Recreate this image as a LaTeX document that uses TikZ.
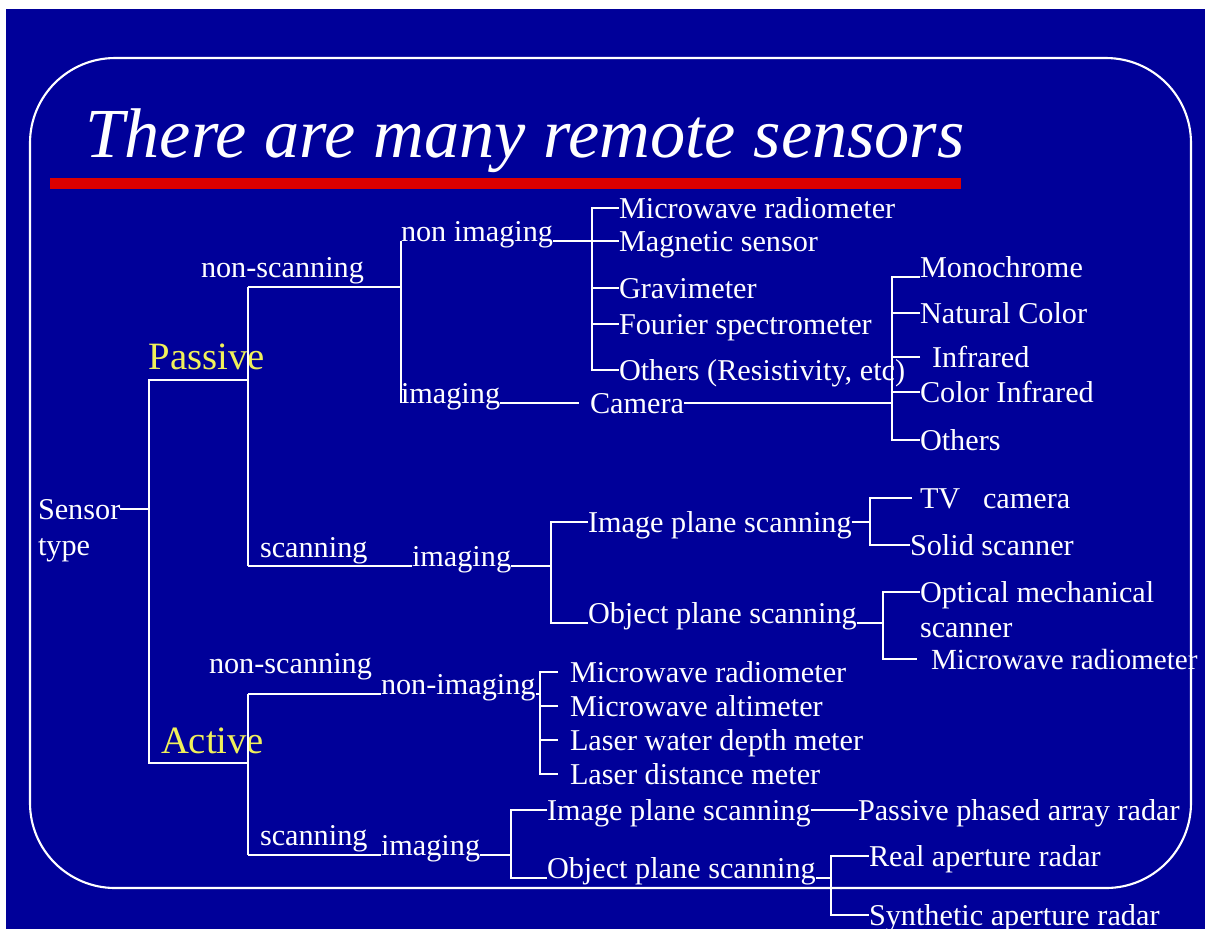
\documentclass[tikz,border=0pt]{standalone}
\usepackage{fontspec}
\setmainfont{Liberation Serif}
\usetikzlibrary{positioning, calc}

\definecolor{slideblue}{RGB}{0,0,153}
\definecolor{slidered}{RGB}{220,0,0}
\definecolor{slideyellow}{RGB}{240,240,90}

\begin{document}
\begin{tikzpicture}[
    x=0.01cm, y=-0.01cm,
    lbl/.style={text=white, font=\fontsize{8.6}{10}\selectfont, inner sep=0pt, outer sep=0pt, text height=5.9pt, text depth=0.2pt, anchor=west},
    online/.style={lbl, anchor=base west},
    kind/.style={online, text=slideyellow, font=\fontsize{11}{13}\selectfont},
    heading/.style={text=white, font=\fontsize{20}{24}\selectfont\itshape, inner sep=0pt, anchor=base west},
    wire/.style={draw=white, line width=0.55pt},
]
\useasboundingbox (0,0) rectangle (1205,929);

% slide background
\fill[white] (0,0) rectangle (1205,929);
\fill[slideblue] (6,9) rectangle (1205,929);
\draw[white, line width=0.6pt, rounded corners=0.85cm] (30,58) rectangle (1191,888);
\fill[slidered] (50,178) rectangle (961,189);
\node[heading] (title) at (85,157) {There are many remote sensors};

% root
\node[lbl] (sensor) at (38,509) {Sensor};
\node[lbl] (stype) at (38,545) {type};
\coordinate (rootT) at (149,380);
\coordinate (rootB) at (149,763);
\coordinate (pasT) at (248,287);
\coordinate (pasB) at (248,566);
\coordinate (actT) at (248,694);
\coordinate (actB) at (248,855);

\node[kind] (passive) at (149,369) {Passive};
\node[kind] (active) at (161,753) {Active};

\draw[wire] (sensor.east) -- (sensor.east -| rootT);
\draw[wire] (rootT -| pasT) -- (rootT) -- (rootB) -- (rootB -| actT);
\draw[wire] (pasT) -- (pasB);
\draw[wire] (actT) -- (actB);

% passive, non-scanning
\node[online] (pns) at (201,277) {non-scanning};
\node[online] (pnimg) at (401,241) {non imaging};
\node[online] (pimg) at (401,403) {imaging};
\draw[wire] (pasT) -- (pasT -| pnimg.base west);
\draw[wire] (pnimg.base west) -- (pimg.base west);

\coordinate (nimgJ) at (592,208);
\node[lbl] (pmwr) at (619,208) {Microwave radiometer};
\node[lbl] (pmag) at (619,241) {Magnetic sensor};
\node[lbl] (pgrav) at (619,288) {Gravimeter};
\node[lbl] (pfour) at (619,324) {Fourier spectrometer};
\node[lbl] (poth) at (619,370) {Others (Resistivity, etc)};
\draw[wire] (pmwr.west) -- (nimgJ) -- (poth.west -| nimgJ) -- (poth.west);
\foreach \leaf in {pgrav, pfour}
    \draw[wire] (\leaf.west) -- (\leaf.west -| nimgJ);
\draw[wire] (pnimg.base east) -- (pmag.west);

\node[lbl] (camera) at (590,403) {Camera};
\draw[wire, shorten >=3pt] (pimg.base east) -- (camera.west);

\coordinate (camJ) at (892,277);
\node[online] (mono) at (920,277) {Monochrome};
\node[lbl] (natc) at (920,313) {Natural Color};
\node[lbl] (infr) at (932,357) {Infrared};
\node[lbl] (cinf) at (920,392) {Color Infrared};
\node[lbl] (coth) at (920,440) {Others};
\draw[wire] (camera.east) -- (camera.east -| camJ);
\draw[wire] (mono.base west) -- (camJ) -- (coth.west -| camJ) -- (coth.west);
\foreach \leaf in {natc, cinf}
    \draw[wire] (\leaf.west) -- (\leaf.west -| camJ);
\draw[wire, shorten <=3.4pt] (infr.west) -- (infr.west -| camJ);

% passive, scanning
\node[online] (psc) at (260,557) {scanning};
\node[online] (psimg) at (412,566) {imaging};
\draw[wire] (pasB) -- (psimg.base west);

\coordinate (psJ) at (551,522);
\node[lbl] (pips) at (588,522) {Image plane scanning};
\node[online] (pops) at (588,623) {Object plane scanning};
\draw[wire] (psimg.base east) -- (psimg.base east -| psJ);
\draw[wire] (pips.west) -- (psJ) -- (pops.base west -| psJ) -- (pops.base west);

\coordinate (ipJ) at (870,498);
\node[lbl] (tvcam) at (920,498) {TV~~~camera};
\node[lbl] (solid) at (910,545) {Solid scanner};
\draw[wire] (pips.east) -- (pips.east -| ipJ);
\draw[wire, shorten <=2.3pt] (tvcam.west) -- (ipJ) -- (solid.west -| ipJ) -- (solid.west);

\coordinate (opJ) at (883,592);
\node[lbl] (optm) at (920,592) {Optical mechanical};
\node[lbl] (optb) at (920,627) {scanner};
\node[lbl, font=\fontsize{8.3}{10}\selectfont] (smwr) at (931,659) {Microwave radiometer};
\draw[wire] (pops.base east) -- (pops.base east -| opJ);
\draw[wire, shorten <=4pt] (smwr.west) -- (smwr.west -| opJ) -- (opJ) -- (optm.west);

% active, non-scanning
\node[online] (ans) at (209,673) {non-scanning};
\node[online] (animg) at (381,694) {non-imaging};
\draw[wire] (actT) -- (animg.base west);

\coordinate (anJ) at (540,672);
\node[lbl] (amwr) at (570,672) {Microwave radiometer};
\node[lbl] (aalt) at (570,706) {Microwave altimeter};
\node[lbl] (awat) at (570,740) {Laser water depth meter};
\node[lbl] (adist) at (570,774) {Laser distance meter};
\draw[wire] (animg.base east) -- (animg.base east -| anJ);
\draw[wire, shorten <=3.4pt, shorten >=3.4pt] (amwr.west) -- (anJ) -- (adist.west -| anJ) -- (adist.west);
\foreach \leaf in {aalt, awat}
    \draw[wire, shorten <=3.4pt] (\leaf.west) -- (\leaf.west -| anJ);

% active, scanning
\node[online] (asc) at (260,845) {scanning};
\node[online] (asimg) at (381,855) {imaging};
\draw[wire] (actB) -- (asimg.base west);

\coordinate (asJ) at (511,810);
\node[lbl] (aips) at (547,810) {Image plane scanning};
\node[lbl] (ppar) at (858,810) {Passive phased array radar};
\node[online] (aops) at (547,878) {Object plane scanning};
\draw[wire] (asimg.base east) -- (asimg.base east -| asJ);
\draw[wire] (aips.west) -- (asJ) -- (aops.base west -| asJ) -- (aops.base west);
\draw[wire] (aips.east) -- (ppar.west);

\coordinate (aoJ) at (831,856);
\node[lbl] (rar) at (869,856) {Real aperture radar};
\node[lbl] (sar) at (869,915) {Synthetic aperture radar};
\draw[wire] (aops.base east) -- (aops.base east -| aoJ);
\draw[wire] (rar.west) -- (aoJ) -- (sar.west -| aoJ) -- (sar.west);

\end{tikzpicture}
\end{document}
